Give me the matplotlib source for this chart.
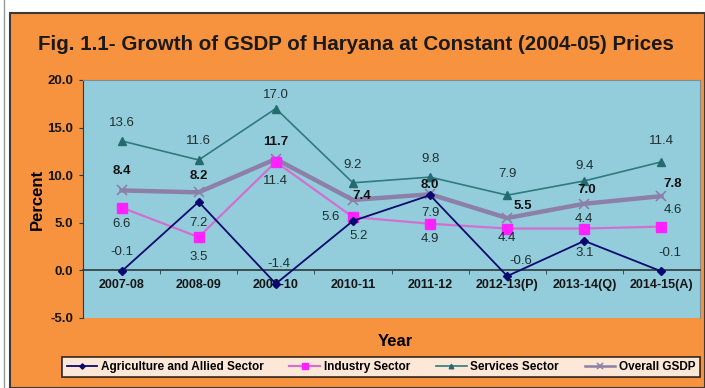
import numpy as np
import matplotlib.pyplot as plt
from matplotlib.patches import Rectangle
from matplotlib import font_manager

# Growth rates (%) of Haryana GSDP by sector, constant 2004-05 prices
years = ['2007-08', '2008-09', '2009-10', '2010-11', '2011-12',
         '2012-13(P)', '2013-14(Q)', '2014-15(A)']
agriculture = [-0.1, 7.2, -1.4, 5.2, 7.9, -0.6, 3.1, -0.1]
industry = [6.6, 3.5, 11.4, 5.6, 4.9, 4.4, 4.4, 4.6]
services = [13.6, 11.6, 17.0, 9.2, 9.8, 7.9, 9.4, 11.4]
overall = [8.4, 8.2, 11.7, 7.4, 8.0, 5.5, 7.0, 7.8]

# pick a narrow font if one is around
names = {f.name for f in font_manager.fontManager.ttflist}
narrow = 'Liberation Sans Narrow' if 'Liberation Sans Narrow' in names else 'Liberation Sans'
plt.rcParams['font.family'] = [narrow, 'DejaVu Sans']

orange = '#F7923F'
plot_bg = '#93CDDC'

fig = plt.figure(figsize=(7.05, 3.88), dpi=100, facecolor='white')
# orange chart panel with its frame
fig.patches.append(Rectangle((10 / 705, 0), 695 / 705, 1 - 13 / 388, transform=fig.transFigure,
                             facecolor=orange, edgecolor='#3a3a3a', linewidth=1.5, zorder=-5))
fig.add_artist(plt.Line2D([4 / 705, 4 / 705], [0, 1], color='#999999', lw=1, zorder=-5))

ax = fig.add_axes([83 / 705, 1 - 318 / 388, 617 / 705, 238 / 388])
ax.set_zorder(2)
ax.set_facecolor(plot_bg)

x = np.arange(len(years))
ax.plot(x, agriculture, color='#0A0A6E', lw=1.3, marker='D', ms=4.5, zorder=5,
        label='Agriculture and Allied Sector')
ax.plot(x, industry, color='#D070D0', lw=1.6, marker='s', ms=6.5, mfc='#FF22FF', mec='#FF22FF',
        zorder=4, label='Industry Sector')
ax.plot(x, services, color='#2F7A7E', lw=1.2, marker='^', ms=5.5, mfc='#236B6E', mec='#236B6E',
        zorder=3, label='Services Sector')
ax.plot(x, overall, color='#8C7FA8', lw=3.2, marker='x', ms=7, mew=1.2, mec='#8C7FA8',
        zorder=2, label='Overall GSDP')

ax.set_xlim(-0.5, len(years) - 0.5)
ax.set_ylim(-5, 20)

# value labels, offsets in points
txt = dict(fontsize=9.5, color='#1f2f2f', ha='center', va='center', zorder=6)
agri_off = [(0, 14), (0, -15), (2, 14), (4, -11), (0, -13), (10, 11), (0, -9), (6, 13)]
ind_off = [(0, -12), (0, -14), (0, -14), (-16, 0), (0, -11), (0, -7), (0, 7), (8, 12)]
serv_off = [(0, 13), (0, 14), (0, 10), (0, 13), (0, 13), (0, 15), (0, 11), (0, 15)]
over_off = [(0, 14), (0, 12), (0, 12), (6, 3), (0, 7), (11, 9), (2, 10), (8, 9)]
for i in x:
    ax.annotate(f'{agriculture[i]:.1f}', (i, agriculture[i]), xytext=agri_off[i],
                textcoords='offset points', **txt)
    ax.annotate(f'{industry[i]:.1f}', (i, industry[i]), xytext=ind_off[i],
                textcoords='offset points', **txt)
    ax.annotate(f'{services[i]:.1f}', (i, services[i]), xytext=serv_off[i],
                textcoords='offset points', **txt)
    ax.annotate(f'{overall[i]:.1f}', (i, overall[i]), xytext=over_off[i],
                textcoords='offset points', fontweight='bold', **{**txt, 'color': '#111111'})

# axes styling
for s in ['top', 'right']:
    ax.spines[s].set_color('#7a8f95')
    ax.spines[s].set_linewidth(0.8)
ax.spines['bottom'].set_position(('data', 0))
ax.spines['bottom'].set_color('#2b3a3a')
ax.spines['bottom'].set_linewidth(1.2)
ax.spines['left'].set_color('#2b3a3a')

ax.set_xticks(x)
ax.set_xticklabels(years, fontsize=9, fontweight='bold', color='#151515')
ax.tick_params(axis='x', which='major', length=0, pad=6)
ax.set_xticks(np.arange(0.5, len(years) - 1, 1), minor=True)
ax.tick_params(axis='x', which='minor', length=3, direction='out', color='#2b3a3a')

ax.set_yticks(np.arange(-5, 21, 5))
ax.set_yticklabels([f'{v:.1f}' for v in np.arange(-5, 21, 5)], fontsize=9.5,
                   fontweight='bold', color='#151515')
ax.tick_params(axis='y', length=3, color='#2b3a3a', pad=4)

ax.set_ylabel('Percent', fontsize=12, fontweight='bold', labelpad=2)
fig.text(395 / 705, 1 - 341 / 388, 'Year', fontsize=12, fontweight='bold', ha='center', va='center')

fig.text(38 / 705, 1 - 45 / 388, 'Fig. 1.1- Growth of GSDP of Haryana at Constant (2004-05) Prices',
         fontsize=14.8, fontweight='bold', color='#1a1a1a', ha='left', va='center')

leg = fig.legend(loc='center', bbox_to_anchor=(381 / 705, 1 - 367 / 388), ncol=4,
                 frameon=True, fancybox=False, edgecolor='black', markerscale=0.6,
                 handlelength=2.6, columnspacing=2.2, handletextpad=0.3,
                 borderpad=0.35, prop={'weight': 'bold', 'size': 8.5})
leg.get_frame().set_linewidth(1.2)
for h in leg.legend_handles:
    h.set_linewidth(min(h.get_linewidth(), 1.8))

fig.savefig('out.png', dpi=100, facecolor=fig.get_facecolor())
